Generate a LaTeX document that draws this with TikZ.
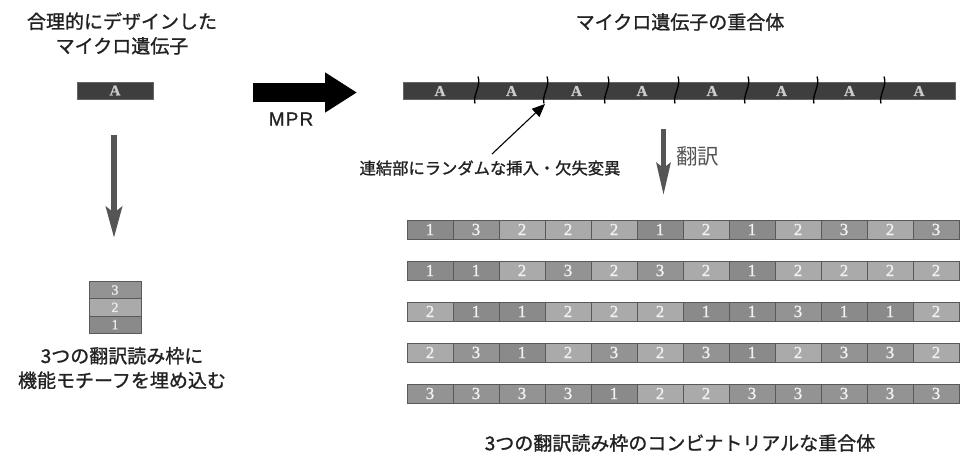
\documentclass[tikz,border=0pt]{standalone}
\usepackage{fontspec}
\newfontfamily\jp{Noto Sans CJK JP}[FakeBold=1.2]
\newfontfamily\jpl{Noto Sans CJK JP}
\newfontfamily\numf{Liberation Serif}[FakeBold=1.2]
\newfontfamily\latf{Liberation Sans}[LetterSpace=6,FakeBold=0.8]
\usetikzlibrary{arrows.meta}
\definecolor{gone}{HTML}{8A8A8A}
\definecolor{gtwo}{HTML}{AAAAAA}
\definecolor{gthree}{HTML}{939393}
\definecolor{bardark}{HTML}{3E3E3E}
\definecolor{txt}{HTML}{222222}
\definecolor{arrgray}{HTML}{555555}
\tikzset{
  x=1pt, y=-1pt,
  cellbox/.style={draw=black!65, line width=0.9pt, minimum width=46pt, minimum height=19pt,
    inner sep=0pt, text=white!95!black, font=\numf\fontsize{17}{17}\selectfont},
  c1/.style={cellbox, fill=gone},
  c2/.style={cellbox, fill=gtwo},
  c3/.style={cellbox, fill=gthree},
  stk/.style={draw=black!65, line width=0.9pt, minimum width=52pt, minimum height=17.3pt,
    inner sep=0pt, text=white!92!black, font=\numf\fontsize{14}{14}\selectfont},
  abox/.style={fill=bardark, draw=black!60, line width=0.6pt, inner sep=0pt},
  alab/.style={text=white!80!black, font=\numf\bfseries\fontsize{15}{15}\selectfont, inner sep=0pt},
  ttl/.style={text=txt, font=\jp\fontsize{19}{24.5}\selectfont, align=center, inner sep=0pt},
  junc/.style={draw=black, line width=1.3pt},
}
\begin{document}
\begin{tikzpicture}
\useasboundingbox (0,0) rectangle (961,457);

% left column
\node[ttl] (ltitle) at (122,33.5) {合理的にデザインした\\マイクロ遺伝子};
\node[abox, minimum width=76pt, minimum height=17pt] (abox) at (115,90.5) {};
\node[alab] (alabel) at (abox) {A};
\coordinate (la1) at (114,135);
\coordinate (la2) at (114,238);
\draw[draw=arrgray, line width=6pt, -{Stealth[length=31pt, width=16pt, inset=6pt]}] (la1) -- (la2);
\node[stk, fill=gthree] (s3) at (115,290) {3};
\node[stk, fill=gtwo] (s2) at (115,307.3) {2};
\node[stk, fill=gone] (s1) at (115,324.6) {1};
\node[ttl] (lbottom) at (122,368) {3つの翻訳読み枠に\\機能モチーフを埋め込む};

% big arrow
\coordinate (bt) at (253,92.5);
\coordinate (bh) at (357,92.5);
\draw[draw=black, line width=19pt, -{Triangle[length=32pt, width=38pt]}] (bt) -- (bh);
\node[text=txt, font=\latf\fontsize{19}{19}\selectfont, inner sep=0pt] (mpr) at (291,119) {MPR};

% top bar
\node[ttl] (ttitle) at (680,22) {マイクロ遺伝子の重合体};
\node[abox, minimum width=552pt, minimum height=17pt, anchor=west] (bar) at (403,90.5) {};
\foreach \x [count=\i] in {440,511.5,576.5,642,712,781.5,849.5,919} {
  \node[alab] (a\i) at (\x,91) {A};
}
\foreach \x [count=\i] in {477,546,607,677,747,816,883} {
  \coordinate (j\i) at (\x,90.5);
  \draw[junc] ([shift={(1,-14)}]j\i) .. controls ([shift={(4.5,-5)}]j\i) and ([shift={(-4.5,5)}]j\i) .. ([shift={(-2,13)}]j\i);
}

% annotation
\node[text=txt, font=\jp\fontsize{16.3}{16.3}\selectfont, inner sep=0pt] (ann) at (490,168) {連結部にランダムな挿入・欠失変異};
\coordinate (atail) at (492,154);
\coordinate (ahead) at (545,104);
\draw[line width=1.1pt, -{Triangle[length=13pt, width=11pt]}] (atail) -- (ahead);

% translation arrow
\coordinate (t1) at (663.5,129);
\coordinate (t2) at (663.5,195);
\draw[draw=arrgray, line width=5pt, -{Stealth[length=32pt, width=14pt, inset=5pt]}] (t1) -- (t2);
\node[text=arrgray, font=\jpl\fontsize{21.5}{21.5}\selectfont, inner sep=0pt, anchor=west] (trl) at (676,156) {翻訳};

% rows
\foreach \r/\vals in {1/{1,3,2,2,2,1,2,1,2,3,2,3},
                      2/{1,1,2,3,2,3,2,1,2,2,2,2},
                      3/{2,1,1,2,2,2,1,1,3,1,1,2},
                      4/{2,3,1,2,3,2,3,1,2,3,3,2},
                      5/{3,3,3,3,1,2,2,3,3,3,3,3}} {
  \foreach \v [count=\i] in \vals {
    \node[c\v] (r\r c\i) at ({407+23+46*(\i-1)},{229.5+41*(\r-1)}) {\v};
  }
}

\node[ttl] (btitle) at (680,443) {3つの翻訳読み枠のコンビナトリアルな重合体};
\end{tikzpicture}
\end{document}
